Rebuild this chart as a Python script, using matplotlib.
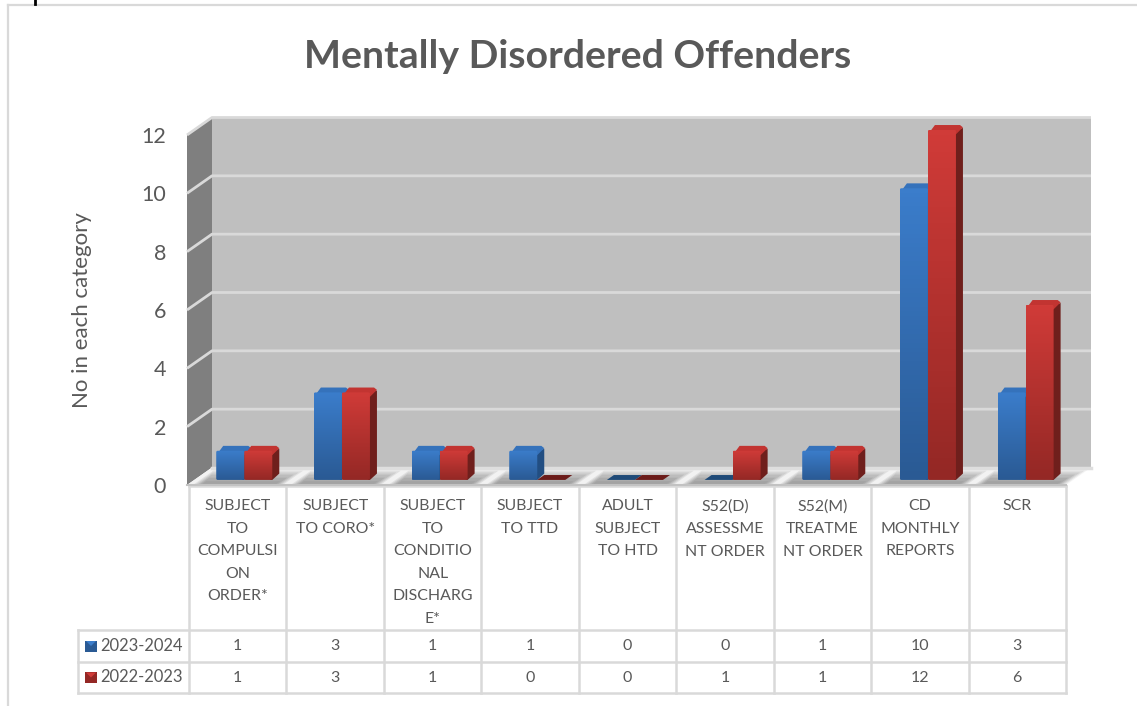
#!/usr/bin/env python

import matplotlib
matplotlib.use("Agg")
import matplotlib.pyplot as plt
import numpy as np
from matplotlib.colors import LinearSegmentedColormap
from matplotlib.patches import FancyBboxPatch, Polygon, Rectangle

plt.rcParams["font.family"] = ["Lato", "DejaVu Sans"]

TITLE = "Mentally Disordered Offenders"
Y_LABEL = "No in each category"
CATEGORIES = [
    "SUBJECT\nTO\nCOMPULSI\nON\nORDER*",
    "SUBJECT\nTO CORO*",
    "SUBJECT\nTO\nCONDITIO\nNAL\nDISCHARG\nE*",
    "SUBJECT\nTO TTD",
    "ADULT\nSUBJECT\nTO HTD",
    "S52(D)\nASSESSME\nNT ORDER",
    "S52(M)\nTREATME\nNT ORDER",
    "CD\nMONTHLY\nREPORTS",
    "SCR",
]
SERIES_NAMES = ["2023-2024", "2022-2023"]
VALUES_2023 = [1, 3, 1, 1, 0, 0, 1, 10, 3]
VALUES_2022 = [1, 3, 1, 0, 0, 1, 1, 12, 6]
Y_TICKS = [0, 2, 4, 6, 8, 10, 12]

TEXT = "#595959"
LINE = "#d9d9d9"
BLUE = dict(top="#3b7dcb", cap="#3572bb", bottom="#2a5a94", side="#224e82", flat="#1f4a78")
RED = dict(top="#d03b38", cap="#c23431", bottom="#942825", side="#6f1f1c", flat="#6b1b19")

W, H = 1137, 706
# front plane of the 3d box in pixels
LEFT, RIGHT, BOTTOM, TOP = 187, 1066, 485, 135
DX = 25 / 97.7   # full depth of the box, in category units
DY = 17.5 / 29.17  # same, in value units
BAR_D0, BAR_D1 = 0.29, 0.57
BAR_W = 0.287
MARGIN = 0.225

fig = plt.figure(figsize=(W / 100, H / 100), dpi=100)

# page layer in pixels: frame and table
page = fig.add_axes([0, 0, 1, 1], zorder=0)
page.set_xlim(0, W)
page.set_ylim(H, 0)
page.axis("off")
page.plot([8, W], [5, 5], color=LINE, lw=1.6)
page.plot([8, 8], [5, H], color=LINE, lw=1.6)
page.plot([35, 35], [0, 4], color="black", lw=2)
page.text(578, 56, TITLE, ha="center", va="center", fontsize=28.3,
          fontweight="bold", color=TEXT)
page.text(82, 310, Y_LABEL, rotation=90, ha="center", va="center",
          fontsize=16, color=TEXT)

ax = fig.add_axes([LEFT / W, 1 - BOTTOM / H, (RIGHT - LEFT) / W, (BOTTOM - TOP) / H],
                  zorder=1)
ax.set_xlim(0, len(CATEGORIES))
ax.set_ylim(0, Y_TICKS[-1])
ax.patch.set_visible(False)
for spine in ax.spines.values():
    spine.set_visible(False)
ax.set_xticks([])
ax.set_yticks(Y_TICKS)
ax.tick_params(axis="y", length=0, pad=15, labelsize=15.5, labelcolor=TEXT)


def poly(points, color, z, **kwargs):
    ax.add_patch(Polygon(points, closed=True, facecolor=color, edgecolor="none",
                         zorder=z, clip_on=False, **kwargs))


n = len(CATEGORIES)
ymax = Y_TICKS[-1]

# walls and floor
poly([(DX, DY), (n + DX, DY), (n + DX, ymax + DY), (DX, ymax + DY)], "#bfbfbf", 1)
poly([(0, 0), (DX, DY), (DX, ymax + DY), (0, ymax)], "#7f7f7f", 1)
poly([(0, 0), (n, 0), (n + DX, DY), (DX, DY)], "#f2f2f2", 2)
for y in Y_TICKS:
    if y == 0:
        continue
    ax.plot([0, DX, n + DX], [y, y + DY, y + DY], color=LINE, lw=2, zorder=1.5,
            clip_on=False, solid_capstyle="butt")
ax.plot([DX, n + DX], [DY, DY], color="#dedede", lw=2.5, zorder=2.6, clip_on=False)
ax.plot([0, n], [0, 0], color="#c2c2c2", lw=1.5, zorder=2.6, clip_on=False)

# soft shadows under each group of bars, darker towards the front
for i in range(n):
    for grow, depth, alpha in [(0.0, 0.82, 0.18), (0.02, 0.72, 0.22), (0.04, 0.6, 0.28),
                               (0.06, 0.42, 0.35), (0.08, 0.22, 0.3)]:
        a = i + 0.06 + grow
        b = i + 0.98 - grow
        poly([(a, 0), (b, 0), (b + DX * depth, DY * depth), (a + DX * depth, DY * depth)],
             "#8f8f8f", 2.2, alpha=alpha)


def draw_bar(x0, h, colors, z):
    x1 = x0 + BAR_W
    dx0, dx1 = DX * BAR_D0, DX * BAR_D1
    dy0, dy1 = DY * BAR_D0, DY * BAR_D1
    left, right = x0 + dx0, x1 + dx0
    base, tip = dy0, h + dy0
    back_dx, back_dy = dx1 - dx0, dy1 - dy0
    if h == 0:
        poly([(left, base), (right, base), (right + back_dx, base + back_dy),
              (left + back_dx, base + back_dy)], colors["flat"], z)
        return
    # side and top faces, both run under the front face so no seam shows
    poly([(right - 0.02, base), (right, base), (right + back_dx, base + back_dy + 0.05),
          (right + back_dx, tip + back_dy - 0.1), (right - 0.02, tip - 0.05)], colors["side"], z)
    poly([(left + 0.004, tip - 0.15), (left + 0.03, tip - 0.02), (left + back_dx, tip + back_dy),
          (right + back_dx - 0.03, tip + back_dy), (right + back_dx, tip + back_dy - 0.08),
          (right, tip - 0.15)], colors["cap"], z + 0.01)
    # front face with a top to bottom gradient
    cmap = LinearSegmentedColormap.from_list("bar", [colors["top"], colors["bottom"]])
    grad = np.linspace(0, 1, 64).reshape(-1, 1)
    im = ax.imshow(grad, cmap=cmap, aspect="auto", extent=(left, right, base, tip),
                   zorder=z + 0.02)
    box = FancyBboxPatch((left, base), BAR_W, h, boxstyle="round,pad=0,rounding_size=0.015",
                         mutation_aspect=3.3, facecolor="none", edgecolor="none",
                         zorder=z + 0.02, clip_on=False)
    ax.add_patch(box)
    im.set_clip_box(fig.bbox)
    im.set_clip_path(box)


for i, (blue, red) in enumerate(zip(VALUES_2023, VALUES_2022)):
    draw_bar(i + MARGIN, blue, BLUE, 3 + i * 0.2)
    draw_bar(i + MARGIN + BAR_W, red, RED, 3.1 + i * 0.2)

ax.set_xlim(0, n)
ax.set_ylim(0, ymax)

# data table under the plot
col_w = (RIGHT - 189) / n
col_x = [189 + col_w * i for i in range(n + 1)]
row_y = [486, 630, 662, 693]
page_lw = 1.8
page.plot([189, RIGHT], [row_y[0], row_y[0]], color=LINE, lw=page_lw)
for y in row_y[1:]:
    page.plot([78, RIGHT], [y, y], color=LINE, lw=page_lw)
page.plot([78, 78], [row_y[1], row_y[3]], color=LINE, lw=page_lw)
for x in col_x:
    page.plot([x, x], [row_y[0], row_y[3]], color=LINE, lw=page_lw)

for i, label in enumerate(CATEGORIES):
    cx = col_x[i] + col_w / 2
    page.text(cx, 499.5, label, ha="center", va="top", fontsize=11.4, color=TEXT, linespacing=1.77)
    page.text(cx, (row_y[1] + row_y[2]) / 2, str(VALUES_2023[i]), ha="center", va="center",
              fontsize=11.5, color=TEXT)
    page.text(cx, (row_y[2] + row_y[3]) / 2, str(VALUES_2022[i]), ha="center", va="center",
              fontsize=11.5, color=TEXT)

for (name, colors, y0, y1) in [(SERIES_NAMES[0], BLUE, row_y[1], row_y[2]),
                               (SERIES_NAMES[1], RED, row_y[2], row_y[3])]:
    cy = (y0 + y1) / 2
    page.add_patch(Rectangle((85, cy - 5.5), 12, 11, facecolor=colors["bottom"], edgecolor="none"))
    page.add_patch(Polygon([(86, cy - 5), (96, cy - 5), (91, cy)], facecolor=colors["top"],
                           edgecolor="none"))
    page.text(100, cy, name, ha="left", va="center", fontsize=11.9, color=TEXT)

fig.savefig("out.png", dpi=100, facecolor="white")
